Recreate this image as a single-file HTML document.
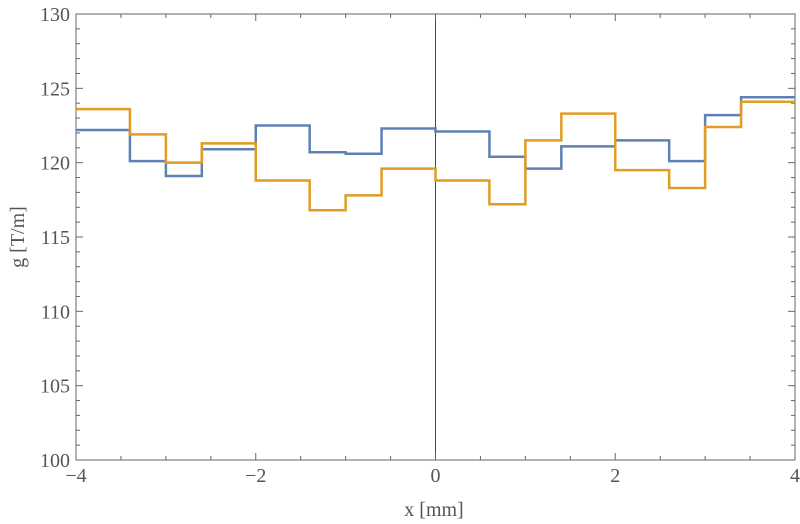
<!DOCTYPE html>
<html><head><meta charset="utf-8"><style>
body{margin:0;background:#fff}
svg{display:block;font-family:"Liberation Serif",serif}
</style></head><body>
<svg width="800" height="524" xmlns="http://www.w3.org/2000/svg">
<g id="axes"></g><g id="series"></g>
<text x="434" y="516" font-size="20" fill="#555" text-anchor="middle">x [mm]</text>
<text transform="translate(24,237) rotate(-90)" font-size="20" fill="#555" text-anchor="middle">g [T/m]</text>
</svg>
<script>
const edges=[-4,-3.4,-3,-2.6,-2,-1.4,-1,-0.6,0,0.6,1,1.4,2,2.6,3,3.4,4];
const blueValues=[122.2,120.1,119.1,120.9,122.5,120.7,120.6,122.3,122.1,120.4,119.6,121.1,121.5,120.1,123.2,124.4];
const orangeValues=[123.6,121.9,120.0,121.3,118.8,116.8,117.8,119.6,118.8,117.2,121.5,123.3,119.5,118.3,122.4,124.1];
const xTicks=[-4,-2,0,2,4];
const yTicks=[100,105,110,115,120,125,130];
const L=76,R=795,T=14,B=460;
const sx=v=>L+(v+4)/8*(R-L);
const sy=v=>B-(v-100)/30*(B-T);
const NS="http://www.w3.org/2000/svg";
const ax=document.getElementById('axes'),se=document.getElementById('series');
function mk(tag,at,par){const e=document.createElementNS(NS,tag);for(const k in at)e.setAttribute(k,at[k]);par.appendChild(e);return e;}
const fr=mk('rect',{x:L,y:T,width:R-L,height:B-T,fill:'none',stroke:'#666','stroke-width':1},ax);


const zl=mk('line',{x1:sx(0),x2:sx(0),y1:T,y2:B,stroke:'#444','stroke-width':1},ax);


for(let v=-4;v<=4.001;v+=0.5){const maj=Math.abs(v/2-Math.round(v/2))<1e-6;const len=maj?7:4;
mk('line',{x1:sx(v),x2:sx(v),y1:B,y2:B-len,stroke:'#666'},ax);mk('line',{x1:sx(v),x2:sx(v),y1:T,y2:T+len,stroke:'#666'},ax);}
for(let v=100;v<=130;v+=1){const maj=v%5===0;const len=maj?7:4;
mk('line',{x1:L,x2:L+len,y1:sy(v),y2:sy(v),stroke:'#666'},ax);mk('line',{x1:R,x2:R-len,y1:sy(v),y2:sy(v),stroke:'#666'},ax);}
xTicks.forEach(v=>{const t=mk('text',{x:sx(v),y:482,'font-size':20,fill:'#555','text-anchor':'middle'},ax);t.textContent=v<0?'\u2212'+(-v):v;

});
yTicks.forEach(v=>{const t=mk('text',{x:70,y:sy(v)+7,'font-size':20,fill:'#555','text-anchor':'end'},ax);t.textContent=v;

});
function step(vals,col,name){let d='';vals.forEach((v,i)=>{d+=(i?'L':'M')+sx(edges[i])+','+sy(v)+'L'+sx(edges[i+1])+','+sy(v);});
const p=mk('path',{d:d,fill:'none',stroke:col,'stroke-width':2.5},se);

}
step(blueValues,'#5E81B5','blue-series');
step(orangeValues,'#E19C24','orange-series');
</script>
</body></html>
